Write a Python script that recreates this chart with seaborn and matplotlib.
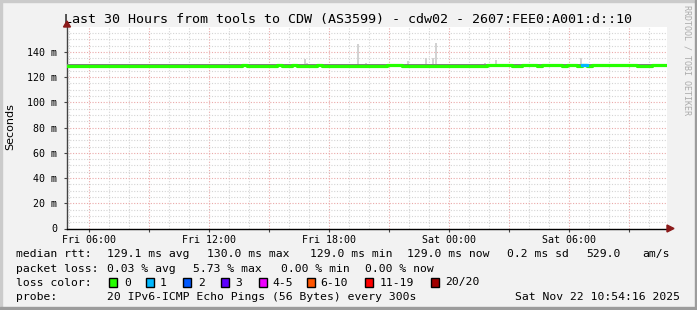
import numpy as np
import pandas as pd
import matplotlib
matplotlib.use("Agg")
import matplotlib.pyplot as plt
import matplotlib.dates as mdates
import matplotlib.ticker as mticker
from matplotlib.patches import Rectangle, Polygon
import seaborn as sns

# ---------------- data ----------------
start = pd.Timestamp("2025-11-21 04:54:16")
end = pd.Timestamp("2025-11-22 10:54:16")

# median rtt (ms) per 15-minute bin, 30 hours (one row per hour)
median_ms = [
    129.2, 129.2, 129.2, 129.2,
    129.2, 129.1, 129.2, 129.2,
    129.2, 129.2, 129.1, 129.2,
    129.2, 129.2, 129.2, 129.2,
    129.1, 129.2, 129.2, 129.2,
    129.2, 129.2, 129.1, 129.2,
    129.2, 129.2, 129.2, 129.1,
    129.2, 129.2, 129.2, 129.2,
    129.2, 129.1, 129.2, 129.8,
    129.2, 129.1, 129.1, 129.1,
    129.1, 129.1, 129.8, 129.1,
    129.1, 129.7, 129.1, 129.1,
    129.1, 129.1, 129.6, 129.1,
    129.1, 129.1, 129.1, 129.1,
    129.1, 129.1, 129.1, 129.1,
    129.1, 129.1, 129.1, 129.1,
    129.8, 129.8, 129.7, 129.1,
    129.1, 129.1, 129.1, 129.1,
    129.1, 129.1, 129.1, 129.1,
    129.1, 129.1, 129.1, 129.1,
    129.1, 129.1, 129.1, 129.1,
    129.5, 129.5, 129.5, 129.5,
    129.5, 129.0, 129.0, 129.5,
    129.5, 129.5, 129.0, 129.5,
    129.5, 129.5, 129.5, 129.0,
    129.5, 129.5, 129.0, 129.8,
    129.0, 129.5, 129.5, 129.5,
    129.5, 129.5, 129.5, 129.5,
    129.5, 129.5, 129.0, 129.0,
    129.0, 129.5, 129.5, 129.5,
]

# packet loss (pings lost of 20) per 15-minute bin; only bin 103 lost one
loss_bins = [103]
loss_counts = [1]

# smoke band (ms) per hour: lower / upper edge of the bulk of the pings
smoke_lo = [128.8] * 10 + [128.8] * 11 + [128.9] * 9
smoke_hi = [130.5, 130.5, 130.6, 130.5, 130.5, 130.6, 130.5, 130.5, 130.6, 130.5,
            130.6, 130.7, 130.6, 130.6, 130.7, 130.6, 130.7, 130.6, 130.8, 130.6,
            130.6, 130.7, 130.7, 130.7, 130.7, 130.8, 130.7, 130.7, 130.7, 130.7]

# outlier pings ("smoke" spikes): hours since start, top (ms)
spike_hours = [11.9, 12.0, 14.55, 14.95, 17.05, 17.95, 18.3, 18.45, 20.9, 21.45, 25.7]
spike_tops = [134.5, 131.5, 146.6, 131.0, 133.0, 135.5, 135.0, 147.0, 131.5, 134.0, 135.0]

loss_colors = ["#26ff00", "#00b8ff", "#0059ff", "#5e00ff", "#ee00ff", "#ff5500", "#ff0000", "#a10000"]
loss_labels = ["0", "1", "2", "3", "4-5", "6-10", "11-19", "20/20"]

# ---------------- figure ----------------
W, H = 697, 310
fig = plt.figure(figsize=(W / 100, H / 100), dpi=100)
fig.patch.set_facecolor("#f2f2f2")

def fx(px):
    return px / W

def fy(py):
    return 1 - py / H

# 3D frame
fig.patches.append(Rectangle((0, fy(2)), 1, 2 / H, transform=fig.transFigure, color="#cbcbcb", zorder=0))
fig.patches.append(Rectangle((0, 0), 2 / W, 1, transform=fig.transFigure, color="#cbcbcb", zorder=0))
fig.patches.append(Rectangle((0, 0), 1, 3 / H, transform=fig.transFigure, color="#9c9c9c", zorder=0))
fig.patches.append(Rectangle((fx(W - 2), 0), 2 / W, 1, transform=fig.transFigure, color="#9c9c9c", zorder=0))

ax_left, ax_right, ax_bottom = 67, 667, 228.5
ymax = 159.6
px_per_ms = 1.261
ax_top = ax_bottom - ymax * px_per_ms
ax = fig.add_axes([fx(ax_left), fy(ax_bottom), (ax_right - ax_left) / W, (ax_bottom - ax_top) / H])
ax.set_facecolor("white")

bin_start = pd.date_range(start, periods=len(median_ms), freq="15min")
hour_start = pd.date_range(start, periods=len(smoke_hi), freq="1h")

# smoke: spikes
spike_t = [start + pd.Timedelta(hours=h) for h in spike_hours]
spike_base = [smoke_hi[int(h)] for h in spike_hours]
ax.bar(spike_t, np.array(spike_tops) - np.array(spike_base), bottom=spike_base,
       width=0.11 / 24, color="#d2d2d2", linewidth=0, zorder=2)

# smoke: band
ax.fill_between(list(hour_start) + [end], smoke_lo + [smoke_lo[-1]], smoke_hi + [smoke_hi[-1]],
                step="post", color="#808080", linewidth=0, zorder=3)

# median line
df = pd.DataFrame({"time": list(bin_start) + [end], "median": median_ms + [median_ms[-1]]})
sns.lineplot(data=df, x="time", y="median", color=loss_colors[0], linewidth=2.3,
             drawstyle="steps-post", estimator=None, ax=ax, zorder=4)
for b, c in zip(loss_bins, loss_counts):
    seg = pd.DataFrame({"time": [bin_start[b], bin_start[b] + pd.Timedelta(minutes=15)],
                        "median": [median_ms[b], median_ms[b]]})
    sns.lineplot(data=seg, x="time", y="median", color=loss_colors[c], linewidth=2.3,
                 estimator=None, ax=ax, zorder=5)

ax.set_xlim(start, end)
ax.set_ylim(0, ymax)
ax.set_xlabel("")
ax.set_ylabel("")

# grid / ticks
ax.yaxis.set_major_locator(mticker.MultipleLocator(20))
ax.yaxis.set_minor_locator(mticker.MultipleLocator(5))
ax.yaxis.set_major_formatter(mticker.FuncFormatter(lambda v, p: "0" if v == 0 else f"{int(v)} m"))
ax.xaxis.set_major_locator(mdates.HourLocator(byhour=range(0, 24, 3)))
ax.xaxis.set_minor_locator(mdates.HourLocator())

def xfmt(v, p):
    d = mdates.num2date(v)
    return d.strftime("%a %H:%M") if d.hour % 6 == 0 else ""

ax.xaxis.set_major_formatter(mticker.FuncFormatter(xfmt))
ax.grid(which="minor", color="#d4d4d4", linestyle=(0, (1, 1.5)), linewidth=0.8, zorder=1)
ax.grid(which="major", color="#eaa8a8", linestyle=(0, (1, 1.5)), linewidth=0.8, zorder=1)
ax.set_axisbelow(True)
ax.tick_params(which="major", length=2, width=0.8, color="#444444", pad=2.5, labelsize=7.2)
ax.tick_params(which="minor", length=0)
for lab in ax.get_xticklabels() + ax.get_yticklabels():
    lab.set_family("DejaVu Sans Mono")
ax.tick_params(axis="y", pad=5)

for s in ["top", "right"]:
    ax.spines[s].set_visible(False)
ax.spines["left"].set_color("#444444")
ax.spines["left"].set_linewidth(1.0)
ax.spines["bottom"].set_color("#000000")
ax.spines["bottom"].set_linewidth(1.0)

# arrows
arrow_c = "#8b1a1a"
fig.patches.append(Polygon([(fx(63.5), fy(27)), (fx(70.5), fy(27)), (fx(67), fy(21))],
                           closed=True, transform=fig.transFigure, color=arrow_c, zorder=10))
fig.patches.append(Polygon([(fx(667), fy(225)), (fx(667), fy(232)), (fx(674), fy(228.5))],
                           closed=True, transform=fig.transFigure, color=arrow_c, zorder=10))

mono = "DejaVu Sans Mono"
fs = 8.2

# title
fig.text(fx(348.5), fy(19), "Last 30 Hours from tools to CDW (AS3599) - cdw02 - 2607:FEE0:A001:d::10",
         ha="center", va="center", family=mono, fontsize=9.6)

# y label
fig.text(fx(10), fy(127), "Seconds", rotation=90, ha="center", va="center",
         family="DejaVu Sans", fontsize=8)

# watermark
fig.text(fx(687), fy(60), "RRDTOOL / TOBI OETIKER", rotation=-90, ha="center", va="center",
         family=mono, fontsize=6, color="#ababab")

def put(x, y, s, ha="left"):
    fig.text(fx(x), fy(y), s, ha=ha, va="center", family=mono, fontsize=fs)

r1, r2, r3, r4 = 254, 268.5, 282.5, 296.5
for x, s in [(16, "median rtt:"), (107.3, "129.1 ms avg"), (207.3, "130.0 ms max"),
             (310, "129.0 ms min"), (407.3, "129.0 ms now"), (507.3, "0.2 ms sd"),
             (586.7, "529.0"), (642.3, "am/s")]:
    put(x, r1, s)
for x, s in [(16, "packet loss:"), (107.3, "0.03 % avg"), (193.3, "5.73 % max"),
             (281, "0.00 % min"), (365, "0.00 % now")]:
    put(x, r2, s)
put(16, r3, "loss color:")
box_x = [109, 145.7, 183.3, 220.7, 259, 306.7, 365, 430.7]
lab_x = [124, 160, 198, 235, 272.3, 320, 380, 445.3]
for bx, lx, c, l in zip(box_x, lab_x, loss_colors, loss_labels):
    fig.patches.append(Rectangle((fx(bx), fy(r3 + 4.5)), 8 / W, 9 / H, transform=fig.transFigure,
                                 facecolor=c, edgecolor="black", linewidth=1.0, zorder=10))
    put(lx, r3, l)
put(16, r4, "probe:")
put(107.3, r4, "20 IPv6-ICMP Echo Pings (56 Bytes) every 300s")
put(680, r4, "Sat Nov 22 10:54:16 2025", ha="right")

fig.savefig("out.png", dpi=100, facecolor=fig.get_facecolor())
